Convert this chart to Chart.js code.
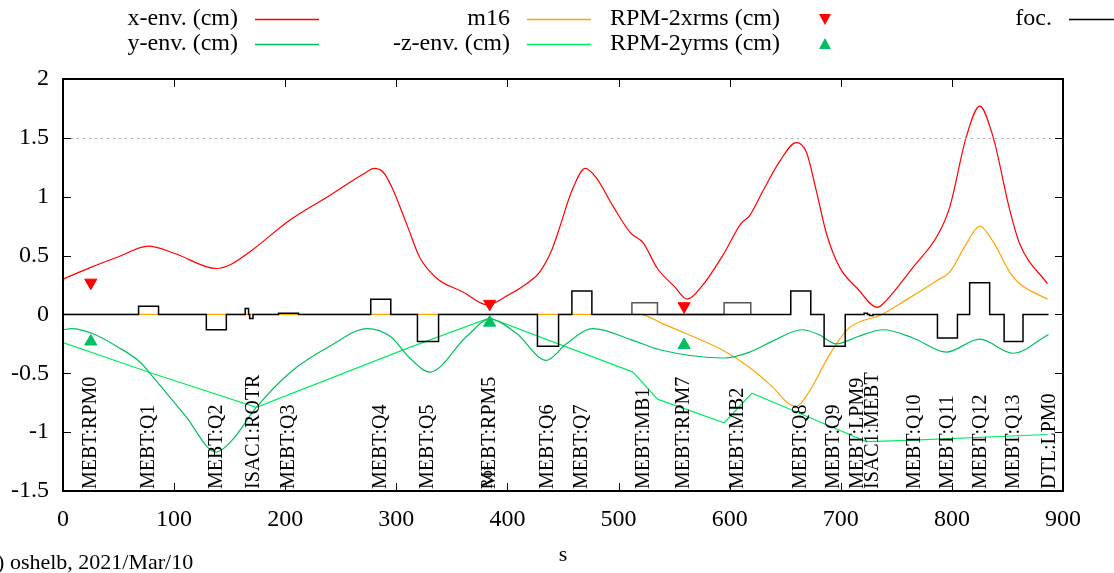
<!DOCTYPE html>
<html>
<head>
<meta charset="utf-8">
<script src="https://cdn.jsdelivr.net/npm/chart.js@4.4.1/dist/chart.umd.min.js"></script>
<style>
html, body { margin: 0; padding: 0; background: #fff; }
#wrap { width: 1114px; height: 573px; }
</style>
</head>
<body>
<div id="wrap"><canvas id="myChart"></canvas></div>
<script>
// envelope data, s in metres along the beam line
const xEnvS = [0, 25, 50, 77, 100, 138, 150, 170, 204, 240, 270, 280, 288, 296, 310, 321, 336, 360, 382, 400, 420, 429, 440, 447, 458, 470, 480, 495, 511, 522, 535, 550, 562, 575, 595, 610, 618, 630, 645, 660, 669, 678, 687, 699, 715, 733, 741, 765, 787, 798, 813, 825, 837, 852, 861, 886];
const xEnvV = [0.30, 0.40, 0.49, 0.58, 0.52, 0.39, 0.42, 0.545, 0.80, 1.01, 1.19, 1.24, 1.21, 1.08, 0.75, 0.485, 0.31, 0.19, 0.08, 0.16, 0.28, 0.36, 0.55, 0.74, 1.05, 1.24, 1.16, 0.92, 0.69, 0.61, 0.39, 0.24, 0.13, 0.24, 0.52, 0.77, 0.84, 1.05, 1.30, 1.46, 1.38, 1.05, 0.69, 0.40, 0.22, 0.06, 0.12, 0.40, 0.67, 0.91, 1.51, 1.77, 1.51, 0.89, 0.60, 0.26];

const yEnvS = [0, 8, 26, 50, 70, 80, 110, 138, 152, 174, 206, 240, 274, 295, 312, 330, 363, 384, 408, 435, 453, 477, 513, 537, 595, 618, 640, 665, 680, 696, 715, 738, 765, 795, 825, 855, 887];
const yEnvV = [-0.13, -0.12, -0.16, -0.28, -0.41, -0.52, -0.86, -1.17, -1.07, -0.79, -0.48, -0.27, -0.12, -0.19, -0.37, -0.49, -0.19, -0.04, -0.16, -0.39, -0.25, -0.12, -0.22, -0.30, -0.37, -0.32, -0.22, -0.13, -0.17, -0.25, -0.19, -0.13, -0.20, -0.32, -0.21, -0.33, -0.17];

const m16S = [0, 519, 540, 560, 595, 618, 639, 652, 660, 672, 687, 696, 708, 737, 760, 787, 798, 813, 825, 837, 852, 861, 886];
const m16V = [0, 0, -0.08, -0.16, -0.31, -0.45, -0.62, -0.75, -0.78, -0.65, -0.39, -0.25, -0.11, 0, 0.13, 0.29, 0.36, 0.60, 0.75, 0.62, 0.36, 0.26, 0.13];

const zEnvS = [0, 80, 174, 312, 384, 513, 535, 595, 620, 658, 723, 760, 886];
const zEnvV = [-0.24, -0.50, -0.79, -0.28, -0.03, -0.49, -0.72, -0.92, -0.67, -0.82, -1.08, -1.07, -1.02];

// profile monitor measurements
const rpmS = [25, 384, 559];
const rpmX = [0.27, 0.09, 0.07];
const rpmY = [-0.23, -0.07, -0.26];

// focusing elements: start, end, strength
const focStart = [68, 129, 164, 168, 194, 277, 319, 427, 458, 655, 685, 721, 726, 787, 816, 847];
const focEnd = [86, 147, 167, 171, 212, 295, 338, 446, 476, 673, 704, 724, 729, 805, 834, 864];
const focVal = [0.07, -0.13, 0.05, -0.035, 0.01, 0.13, -0.23, -0.27, 0.20, 0.20, -0.27, 0.01, -0.01, -0.20, 0.27, -0.23];
const focLast = 887;

const dipStart = [512, 595];
const dipEnd = [535, 619];
const dipVal = [0.10, 0.10];

// element names along the lattice
const elemNames = ['MEBT:RPM0', 'MEBT:Q1', 'MEBT:Q2', 'ISAC1:ROTR', 'MEBT:Q3', 'MEBT:Q4', 'MEBT:Q5', 'MEBT:RPM5', 'Rot', 'MEBT:Q6', 'MEBT:Q7', 'MEBT:MB1', 'MEBT:RPM7', 'MEBT:MB2', 'MEBT:Q8', 'MEBT:Q9', 'MEBT:LPM9', 'ISAC1:MEBT', 'MEBT:Q10', 'MEBT:Q11', 'MEBT:Q12', 'MEBT:Q13', 'DTL:LPM0'];
const elemS = [25, 77, 138, 172, 203, 286, 328, 384, 382, 436, 467, 523, 559, 607, 664, 694, 715, 729, 767, 796, 826, 856, 888];

const xTicks = [0, 100, 200, 300, 400, 500, 600, 700, 800, 900];
const yTicks = [-1.5, -1, -0.5, 0, 0.5, 1, 1.5, 2];

function pts(s, v) {
	return s.map((x, i) => ({ x: x, y: v[i] }));
}
function steps(st, en, val, last) {
	let out = [{ x: 0, y: 0 }];
	for (let i = 0; i < st.length; i++) {
		out.push({ x: st[i], y: 0 }, { x: st[i], y: val[i] }, { x: en[i], y: val[i] }, { x: en[i], y: 0 });
	}
	if (last) out.push({ x: last, y: 0 });
	return out;
}

const RED = '#ff0000';
const ORANGE = '#ffa500';
const GREEN = '#00c060';
const LGREEN = '#00ee66';
const SERIF = "'Liberation Serif', 'DejaVu Serif', serif";

const data = {
	datasets: [
		{ label: 'foc.', data: steps(focStart, focEnd, focVal, focLast), borderColor: '#000', borderWidth: 1.5, pointRadius: 0, tension: 0, order: 0 },
		{ label: 'dip', data: steps(dipStart, dipEnd, dipVal, 0).slice(1), borderColor: '#555', borderWidth: 1.5, pointRadius: 0, tension: 0, order: 0 },
		{ label: 'RPM-2xrms (cm)', data: pts(rpmS, rpmX), showLine: false, pointStyle: 'triangle', rotation: 180, pointRadius: 7, backgroundColor: RED, borderColor: RED, order: 1 },
		{ label: 'RPM-2yrms (cm)', data: pts(rpmS, rpmY), showLine: false, pointStyle: 'triangle', pointRadius: 7, backgroundColor: GREEN, borderColor: GREEN, order: 1 },
		{ label: 'x-env. (cm)', data: pts(xEnvS, xEnvV), borderColor: RED, borderWidth: 1.2, pointRadius: 0, cubicInterpolationMode: 'monotone', order: 2 },
		{ label: 'y-env. (cm)', data: pts(yEnvS, yEnvV), borderColor: GREEN, borderWidth: 1.2, pointRadius: 0, cubicInterpolationMode: 'monotone', order: 2 },
		{ label: 'm16', data: pts(m16S, m16V), borderColor: ORANGE, borderWidth: 1.2, pointRadius: 0, cubicInterpolationMode: 'monotone', order: 3 },
		{ label: '-z-env. (cm)', data: pts(zEnvS, zEnvV), borderColor: LGREEN, borderWidth: 1.2, pointRadius: 0, tension: 0, order: 2 }
	]
};

// gnuplot style frame, inward ticks, element labels and key
const framePlugin = {
	id: 'frame',
	afterDraw(chart) {
		const ctx = chart.ctx;
		const a = chart.chartArea;
		const xs = chart.scales.x, ys = chart.scales.y;
		ctx.save();
		// dotted line at 1.5
		ctx.strokeStyle = '#aaa';
		ctx.lineWidth = 1;
		ctx.setLineDash([2, 4]);
		let yy = Math.round(ys.getPixelForValue(1.5)) + 0.5;
		ctx.beginPath(); ctx.moveTo(a.left + 8, yy); ctx.lineTo(a.right - 8, yy); ctx.stroke();
		ctx.setLineDash([]);
		// ticks
		ctx.strokeStyle = '#000';
		ctx.lineWidth = 1;
		ctx.beginPath();
		xTicks.forEach(t => {
			let px = Math.round(xs.getPixelForValue(t)) + 0.5;
			ctx.moveTo(px, a.bottom); ctx.lineTo(px, a.bottom - 8);
			ctx.moveTo(px, a.top); ctx.lineTo(px, a.top + 8);
		});
		yTicks.forEach(t => {
			let py = Math.round(ys.getPixelForValue(t)) + 0.5;
			ctx.moveTo(a.left, py); ctx.lineTo(a.left + 8, py);
			ctx.moveTo(a.right, py); ctx.lineTo(a.right - 8, py);
		});
		ctx.stroke();
		ctx.lineWidth = 2;
		ctx.strokeRect(a.left, a.top, a.right - a.left, a.bottom - a.top);

		// element labels, rotated
		ctx.fillStyle = '#000';
		elemNames.forEach((n, i) => {
			ctx.save();
			ctx.translate(xs.getPixelForValue(elemS[i]), a.bottom - 2);
			ctx.rotate(-Math.PI / 2);
			ctx.font = (n === 'Rot' ? 16 : 20) + 'px ' + SERIF;
			ctx.textAlign = 'left';
			ctx.textBaseline = 'middle';
			ctx.fillText(n, 0, 0);
			ctx.restore();
		});

		// key
		const key = [
			['x-env. (cm)', 238, 19, 'line', RED],
			['y-env. (cm)', 238, 44, 'line', GREEN],
			['m16', 510, 19, 'line', ORANGE],
			['-z-env. (cm)', 510, 44, 'line', LGREEN],
			['RPM-2xrms (cm)', 780, 19, 'down', RED],
			['RPM-2yrms (cm)', 780, 44, 'up', GREEN],
			['foc.', 1052, 19, 'line', '#000']
		];
		key.forEach(k => {
			ctx.font = '24px ' + SERIF;
			ctx.textAlign = 'right';
			ctx.textBaseline = 'middle';
			ctx.fillStyle = '#000';
			ctx.fillText(k[0], k[1], k[2]);
			let x0 = k[1] + 17;
			if (k[3] === 'line') {
				ctx.strokeStyle = k[4];
				ctx.lineWidth = 1.5;
				ctx.beginPath(); ctx.moveTo(x0, k[2] + 0.5); ctx.lineTo(x0 + 64, k[2] + 0.5); ctx.stroke();
			} else {
				let cx = 825, cy = k[2];
				ctx.fillStyle = k[4];
				ctx.beginPath();
				if (k[3] === 'down') { ctx.moveTo(cx - 6, cy - 5); ctx.lineTo(cx + 6, cy - 5); ctx.lineTo(cx, cy + 6); }
				else { ctx.moveTo(cx - 6, cy + 5); ctx.lineTo(cx + 6, cy + 5); ctx.lineTo(cx, cy - 6); }
				ctx.closePath(); ctx.fill();
			}
		});

		// axis title and footnote
		ctx.fillStyle = '#000';
		ctx.textAlign = 'center';
		ctx.textBaseline = 'middle';
		ctx.font = '22px ' + SERIF;
		ctx.fillText('s', (a.left + a.right) / 2, 555);
		ctx.textAlign = 'left';
		ctx.fillText('(c) oshelb, 2021/Mar/10', -20, 563);
		ctx.restore();
	}
};

const config = {
	type: 'line',
	data: data,
	options: {
		responsive: true,
		maintainAspectRatio: false,
		animation: false,
		layout: { padding: { left: 0, top: 79, right: 51, bottom: 0 } },
		plugins: { legend: { display: false }, tooltip: { enabled: false } },
		scales: {
			x: {
				type: 'linear', min: 0, max: 900,
				afterFit(s) { s.height = 82; },
				afterBuildTicks(s) { s.ticks = xTicks.map(v => ({ value: v })); },
				grid: { display: false, drawTicks: false },
				border: { display: false },
				ticks: { color: '#000', padding: 14, maxRotation: 0, font: { family: SERIF, size: 24 } }
			},
			y: {
				type: 'linear', min: -1.5, max: 2,
				afterFit(s) { s.width = 63; },
				afterBuildTicks(s) { s.ticks = yTicks.map(v => ({ value: v })); },
				grid: { display: false, drawTicks: false },
				border: { display: false },
				ticks: { color: '#000', padding: 14, callback: v => String(v), font: { family: SERIF, size: 24 } }
			}
		}
	},
	plugins: [framePlugin]
};

const myChart = new Chart(document.getElementById('myChart'), config);
</script>
</body>
</html>
